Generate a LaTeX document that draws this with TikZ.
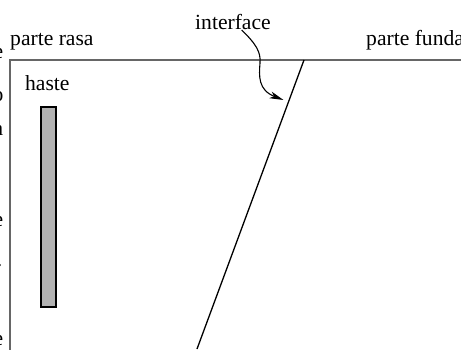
\documentclass[tikz,border=0pt]{standalone}
\usepackage{fontspec}
\setmainfont{Liberation Serif}
\usetikzlibrary{arrows.meta}
\tikzset{
  lbl/.style={inner sep=0pt, anchor=base west, font=\fontsize{21.6}{26}\selectfont},
  frag/.style={inner sep=0pt, anchor=base east, font=\fontsize{21.6}{26}\selectfont},
  frameline/.style={draw=black!60, line width=1.6pt},
  hastebox/.style={draw=black, fill=black!30, line width=1.2pt},
  ifline/.style={draw=black, line width=1.3pt},
  callout/.style={draw=black, line width=1.1pt, -{Stealth[length=14pt,width=7pt,inset=4pt]}}
}
\begin{document}
\begin{tikzpicture}[x=1pt,y=-1pt]
\useasboundingbox (0,0) rectangle (461,349);
% frame
\draw[frameline] (470,60) -- (10,60) -- (10,360);
% labels
\node[lbl] (rasa) at (10,45) {parte rasa};
\node[lbl] (funda) at (366,45) {parte funda};
\node[lbl] (haste) at (25,90) {haste};
\node[lbl] (iface) at (195,29) {interface};
% clipped fragments at the left edge
\node[frag] (f1) at (3.5,58) {e};
\node[frag] (f2) at (3.5,101) {o};
\node[frag] (f3) at (3.5,135) {a};
\node[frag] (f4) at (3.5,226) {e};
\node[frag] (f5) at (2.5,266) {.};
\node[frag] (f6) at (3.5,345) {e};
% rod
\draw[hastebox] (41,107) rectangle (56,307);
% interface line
\coordinate (itop) at (304,60);
\coordinate (ibot) at (197,349);
\draw[ifline] (itop) -- (ibot);
% callout arrow
\coordinate (cstart) at (241.7,30);
\coordinate (ctip) at (283.5,100);
\draw[callout] (cstart) .. controls (256,44) and (261,52) .. (260,63)
  .. controls (259,76) and (258,90) .. (ctip);
\end{tikzpicture}
\end{document}
